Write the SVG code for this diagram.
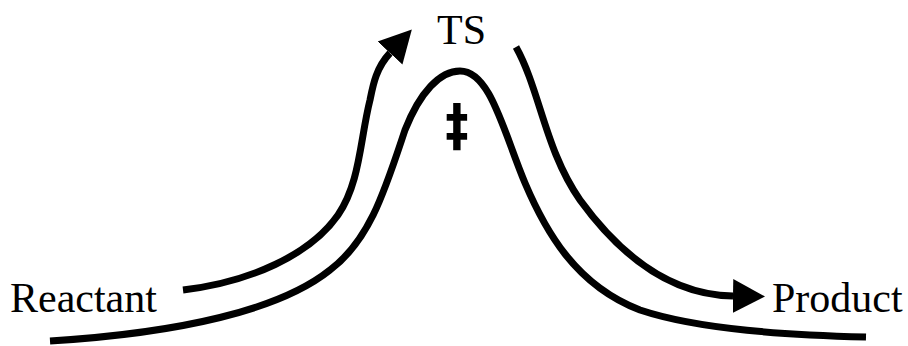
<svg xmlns="http://www.w3.org/2000/svg" width="908" height="346" viewBox="0 0 908 346">
<style>
.ln{fill:none;stroke:#000;stroke-width:7}
.lbl{font-family:"Liberation Serif","Times New Roman",serif;font-size:42px;fill:#000}
.dg{font-family:"DejaVu Sans","Liberation Sans",sans-serif;font-size:46px;font-weight:bold;fill:#000}
</style>
<defs>
<marker id="ah" markerUnits="userSpaceOnUse" markerWidth="34" markerHeight="36" viewBox="0 -18 34 36" refX="0" refY="0" orient="auto">
<path d="M0,-17 L32,0 L0,17 Z" fill="#000"/>
</marker>
</defs>
<rect width="908" height="346" fill="#fff"/>
<g id="curve">
<path class="ln" d="M50,341 C 180,333 280,310 330,270 C 370,240 385,190 405,130 C 420,92 440,71 460,71 C 490,71 503,130 525,183 C 545,230 575,285 640,310 C 700,330 790,335 866,337"/>
</g>
<g id="connectors">
<path class="ln" d="M183,290 C 250,282 310,255 338,215 C 360,183 360,140 370,100 C 373,85 376,68 390,53" marker-end="url(#ah)"/>
<path class="ln" d="M516,47 C 540,90 545,150 580,200 C 620,255 670,295 733,296" marker-end="url(#ah)"/>
</g>
<g id="reactant"><text class="lbl" x="10" y="312">Reactant</text></g>
<g id="ts"><text class="lbl" x="437" y="44">TS</text></g>
<g id="product"><text class="lbl" x="772" y="312">Product</text></g>
<g id="dagger" transform="translate(457,126) scale(1,1.24)"><text class="dg" x="0" y="15" text-anchor="middle">‡</text></g>
</svg>
